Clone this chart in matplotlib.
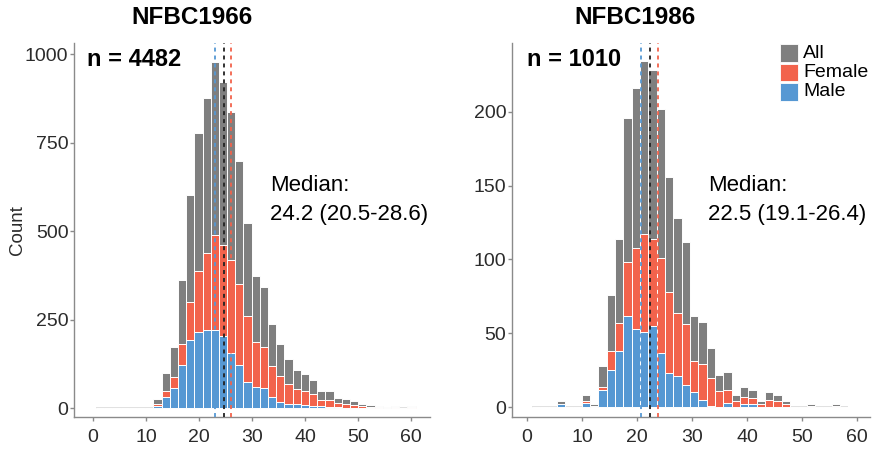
import matplotlib
matplotlib.use("Agg")
import matplotlib.pyplot as plt
from matplotlib.patches import Rectangle
import numpy as np

plt.rcParams['font.family'] = ['Liberation Sans', 'DejaVu Sans']

# ---------------- data ----------------
titles = ["NFBC1966", "NFBC1986"]
n_labels = ["n = 4482", "n = 1010"]
median_text = ["Median:\n24.2 (20.5-28.6)", "Median:\n22.5 (19.1-26.4)"]
legend_labels = ["All", "Female", "Male"]

# NFBC1966 histogram
bins66_start = 0.55
bins66_width = 1.547
male66 = [0, 0, 0, 0, 0, 1, 0, 6, 33, 56, 122, 193, 216, 221, 221, 204, 155, 122, 75, 61, 56,
          32, 18, 13, 12, 9, 7, 6, 5, 3, 2, 2, 1, 1, 0, 0, 0, 0, 1]
female66 = [0, 0, 0, 1, 0, 0, 1, 7, 17, 31, 59, 108, 173, 218, 268, 257, 263, 228, 187, 126, 116,
            87, 73, 57, 42, 40, 33, 18, 19, 12, 11, 8, 5, 4, 3, 2, 3, 0, 2]
all66 = [0, 0, 0, 1, 0, 1, 1, 13, 50, 87, 181, 301, 389, 439, 489, 461, 418, 350, 262, 187, 172,
         119, 91, 70, 54, 49, 40, 24, 24, 15, 13, 10, 6, 5, 3, 2, 3, 0, 3]
lines66 = {"Male": 23.0, "All": 24.7, "Female": 26.0}

# NFBC1986 histogram
bins86_start = 0.855
bins86_width = 1.515
male86 = [0, 0, 0, 2, 0, 0, 3, 0, 12, 25, 38, 62, 53, 51, 55, 37, 23, 21, 15, 10, 5, 1, 0, 3, 0,
          2, 2, 0, 0, 0, 0, 0, 0, 0, 0, 0, 0, 0]
female86 = [0, 0, 0, 0, 0, 0, 1, 1, 2, 13, 19, 36, 55, 66, 59, 64, 55, 43, 41, 21, 24, 19, 11, 9, 4,
            5, 4, 2, 5, 4, 2, 0, 0, 1, 0, 0, 1, 0]
all86 = [0, 0, 0, 2, 0, 0, 4, 1, 14, 38, 57, 98, 108, 117, 114, 101, 78, 64, 56, 31, 29, 20, 11, 12, 4,
         7, 6, 2, 5, 4, 2, 0, 0, 1, 0, 0, 1, 0]
lines86 = {"Male": 20.67, "All": 22.36, "Female": 23.87}

x_ticks = [0, 10, 20, 30, 40, 50, 60]
y_ticks66 = [0, 250, 500, 750, 1000]
y_ticks86 = [0, 50, 100, 150, 200]

# ---------------- style ----------------
C_ALL = "#7f7f7f"
C_FEM = "#f2634c"
C_MALE = "#5698d3"
AX_COL = "#8a8a8a"
TXT_COL = "#2b2b2b"

W, H = 883, 453
fig = plt.figure(figsize=(W / 100, H / 100), dpi=100)


def px_axes(x0, x1, y0, y1):
    return fig.add_axes([x0 / W, (H - y1) / H, (x1 - x0) / W, (y1 - y0) / H])


def fx(px):
    return px / W


def fy(py):
    return 1 - py / H


def draw_panel(ax, start, width, male, female, allv, lines, yticks, xlim, ylim):
    n = len(male)
    edges = start + width * np.arange(n + 1)
    left = edges[:-1]
    male = np.array(male, float)
    female = np.array(female, float)
    allv = np.array(allv, float)
    ax.hlines(0, edges[0], edges[-1], color="#dcdcdc", lw=1.2, zorder=1)
    kw = dict(width=width, align="edge", edgecolor="white", linewidth=0.7, zorder=2)
    ax.bar(left, male, color=C_MALE, **kw)
    ax.bar(left, female, bottom=male, color=C_FEM, **kw)
    ax.bar(left, allv, bottom=male + female, color=C_ALL, **kw)
    ls = (0, (2.2, 2.2))
    ax.axvline(lines["Male"], color=C_MALE, ls=ls, lw=1.3, zorder=3)
    ax.axvline(lines["All"], color="#222222", ls=ls, lw=1.3, zorder=3)
    ax.axvline(lines["Female"], color=C_FEM, ls=ls, lw=1.3, zorder=3)
    ax.set_xlim(*xlim)
    ax.set_ylim(*ylim)
    ax.set_xticks(x_ticks)
    ax.set_yticks(yticks)
    for s in ["top", "right"]:
        ax.spines[s].set_visible(False)
    for s in ["left", "bottom"]:
        ax.spines[s].set_color(AX_COL)
        ax.spines[s].set_linewidth(1.0)
    ax.tick_params(axis="both", colors=AX_COL, labelcolor=TXT_COL, labelsize=14,
                   length=3, width=1.0)
    ax.tick_params(axis="y", pad=1)
    ax.tick_params(axis="x", pad=6)
    ax.set_facecolor("none")


# left panel
s66 = 5.3
x066 = 93
ax1 = px_axes(74, 430, 43, 417)
draw_panel(ax1, bins66_start, bins66_width, male66, female66, all66, lines66, y_ticks66,
           ((74 - x066) / s66, (430 - x066) / s66), (-24.6, 1032))
ax1.set_ylabel("Count", fontsize=13.5, color=TXT_COL)
ax1.yaxis.set_label_coords((26 - 74) / (430 - 74), 0.5)

# right panel
s86 = 5.5
x086 = 527
ax2 = px_axes(512, 870, 43, 417)
draw_panel(ax2, bins86_start, bins86_width, male86, female86, all86, lines86, y_ticks86,
           ((512 - x086) / s86, (870 - x086) / s86), (-6.6, 246.5))

# titles and annotations
for cx, t in zip([192, 635], titles):
    fig.text(fx(cx), fy(18), t, ha="center", va="center", fontsize=17.5,
             fontweight="bold", color="black")
for lx, t in zip([87, 527], n_labels):
    fig.text(fx(lx), fy(60), t, ha="left", va="center", fontsize=17,
             fontweight="bold", color="black")
for lx, t in zip([270, 708], median_text):
    fig.text(fx(lx), fy(200), t, ha="left", va="center", fontsize=16,
             color="black", linespacing=1.45)

# legend (right panel)
leg_colors = [C_ALL, C_FEM, C_MALE]
for i, (lab, col) in enumerate(zip(legend_labels, leg_colors)):
    top = 44 + 19.5 * i
    fig.patches.append(Rectangle((fx(780), fy(top + 17.5)), 17.5 / W, 17.5 / H,
                                 transform=fig.transFigure, facecolor=col,
                                 edgecolor="white", linewidth=0.6))
    fig.text(fx(803), fy(top + 9), lab, ha="left", va="center", fontsize=14,
             color="black")

fig.savefig("out.png", dpi=100)
